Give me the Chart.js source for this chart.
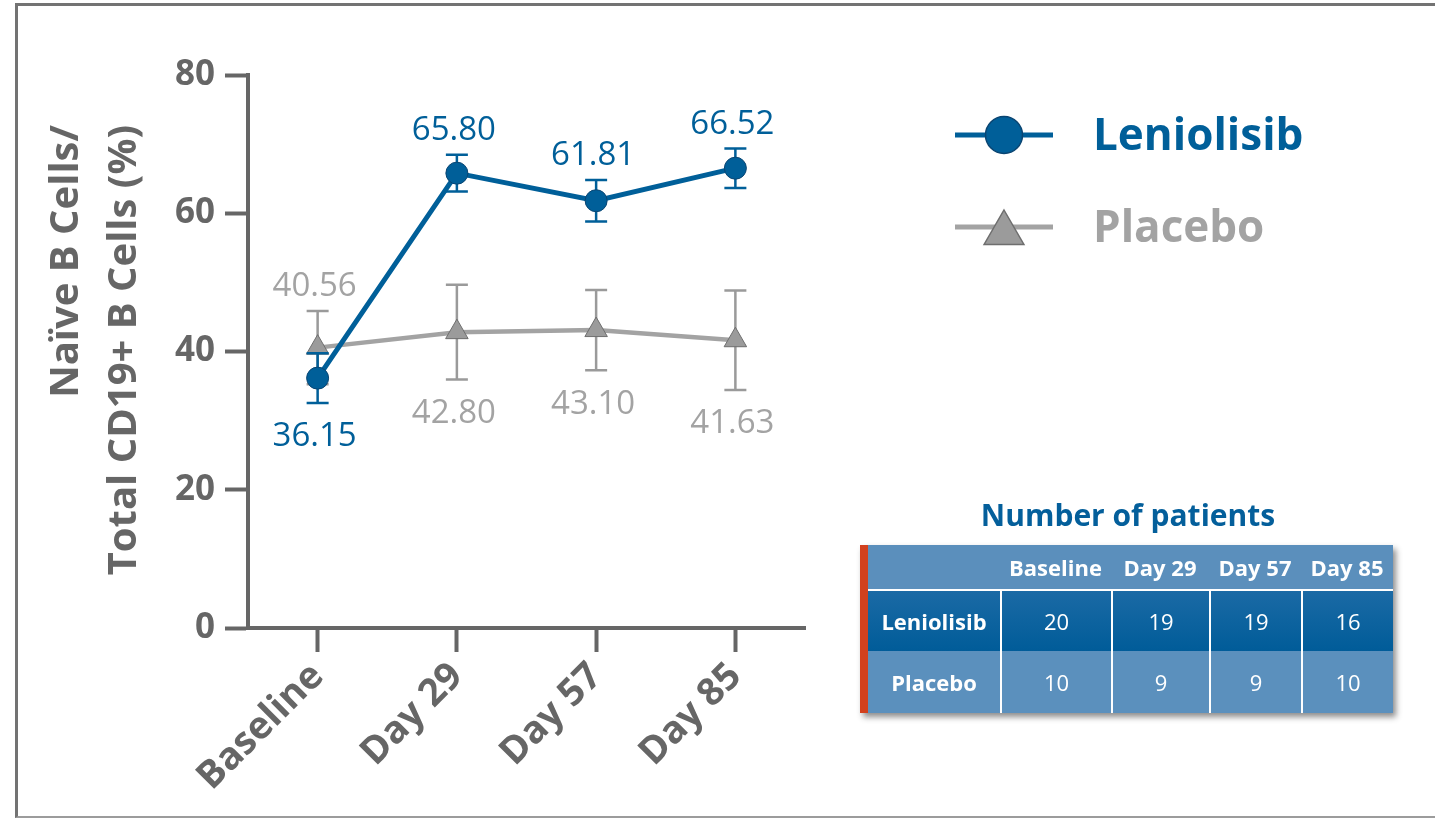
<!DOCTYPE html>
<html>
<head>
<meta charset="utf-8">
<script src="https://cdn.jsdelivr.net/npm/chart.js@4.4.1/dist/chart.umd.min.js"></script>
<style>
  body { margin: 0; background: #fff; font-family: "Open Sans", sans-serif; }
  #wrap { position: relative; width: 1435px; height: 818px; overflow: hidden; }
  #frame { position: absolute; left: 15px; top: 3px; width: 1440px; height: 810px;
           border-left: 3px solid #737373; border-top: 3px solid #737373; border-bottom: 2px solid #9c9c9c; }
  canvas { position: absolute; left: 0; top: 0; }
  #tblTitle { position: absolute; left: 860px; top: 494px; width: 536px; text-align: center;
              font-weight: 700; font-size: 30px; color: #045f9b; }
  #patients { position: absolute; left: 860px; top: 545px; border-collapse: separate; border-spacing: 0;
              table-layout: fixed; width: 533px; border-left: 8px solid #d2411e;
              box-shadow: 3px 4px 6px rgba(0,0,0,0.45); color: #fff; font-size: 22px; }
  #patients th, #patients td { padding: 0; text-align: center; }
  #patients thead th { background: #5b8fbc; height: 44px; font-weight: 700; border-bottom: 2px solid #fff; }
  #patients tbody td { border-left: 2px solid #fff; }
  #patients tbody th { font-weight: 700; }
  #patients tr.len td, #patients tr.len th { background: linear-gradient(#1b6aa5, #005c99); height: 60px; }
  #patients tr.pbo td, #patients tr.pbo th { background: #5b90bd; height: 62px; }
</style>
</head>
<body>
<div id="wrap">
  <div id="frame"></div>
  <canvas id="naiveChart" width="1435" height="818"></canvas>
  <div id="tblTitle">Number of patients</div>
  <table id="patients"></table>
</div>
<script>
  // values
  const categories = ['Baseline', 'Day 29', 'Day 57', 'Day 85'];
  const leniolisibMean = [36.15, 65.80, 61.81, 66.52];
  const leniolisibErr = [3.6, 2.65, 3.0, 2.85];
  const placeboMean = [40.56, 42.80, 43.10, 41.63];
  const placeboErr = [5.3, 6.85, 5.8, 7.2];
  const yTicks = [0, 20, 40, 60, 80];
  const leniolisibN = [20, 19, 19, 16];
  const placeboN = [10, 9, 9, 10];

  const BLUE = '#005f99';
  const GREY = '#a3a3a3';
  const AXIS = '#666666';

  // patients table
  const table = document.getElementById('patients');
  let html = '<colgroup><col style="width:132px"><col style="width:111px"><col style="width:98px">' +
             '<col style="width:92px"><col style="width:92px"></colgroup>';
  html += '<thead><tr><th></th>' + categories.map(c => '<th>' + c + '</th>').join('') + '</tr></thead><tbody>';
  html += '<tr class="len"><th>Leniolisib</th>' + leniolisibN.map(n => '<td>' + n + '</td>').join('') + '</tr>';
  html += '<tr class="pbo"><th>Placebo</th>' + placeboN.map(n => '<td>' + n + '</td>').join('') + '</tr></tbody>';
  table.innerHTML = html;

  function drawMarker(ctx, style, x, y, r) {
    ctx.beginPath();
    if (style === 'triangle') {
      ctx.moveTo(x, y - r);
      ctx.lineTo(x + r * 0.866, y + r * 0.5);
      ctx.lineTo(x - r * 0.866, y + r * 0.5);
      ctx.closePath();
    } else {
      ctx.arc(x, y, r, 0, Math.PI * 2);
    }
    ctx.fill();
    ctx.stroke();
  }

  const extras = {
    id: 'extras',
    // error bars go under each series' line and markers
    beforeDatasetDraw(chart, args) {
      const ds = chart.data.datasets[args.index];
      const y = chart.scales.y;
      const ctx = chart.ctx;
      ctx.save();
      ctx.strokeStyle = ds.errColor;
      ctx.lineWidth = 2.5;
      args.meta.data.forEach((pt, i) => {
        const top = y.getPixelForValue(ds.data[i] + ds.err[i]);
        const bot = y.getPixelForValue(ds.data[i] - ds.err[i]);
        ctx.beginPath();
        ctx.moveTo(pt.x, top); ctx.lineTo(pt.x, bot);
        ctx.moveTo(pt.x - 11, top); ctx.lineTo(pt.x + 11, top);
        ctx.moveTo(pt.x - 11, bot); ctx.lineTo(pt.x + 11, bot);
        ctx.stroke();
      });
      ctx.restore();
    },
    afterDraw(chart) {
      const ctx = chart.ctx;
      const y = chart.scales.y;
      const area = chart.chartArea;
      const sets = chart.data.datasets;
      ctx.save();

      // value labels, placed beyond the error bar on the side away from the other series
      ctx.font = '33px "Open Sans"';
      ctx.textAlign = 'center';
      ctx.textBaseline = 'middle';
      sets.forEach((ds, d) => {
        const other = sets[1 - d];
        const meta = chart.getDatasetMeta(d);
        ctx.fillStyle = ds.labelColor;
        meta.data.forEach((pt, i) => {
          const above = ds.data[i] >= other.data[i];
          const py = above ? y.getPixelForValue(ds.data[i] + ds.err[i]) - 24
                           : y.getPixelForValue(ds.data[i] - ds.err[i]) + 34;
          ctx.fillText(ds.data[i].toFixed(2), pt.x - 3, py);
        });
      });

      // y axis title, two lines aligned at the top
      ctx.fillStyle = AXIS;
      ctx.font = 'bold 40px "Open Sans"';
      ctx.textAlign = 'right';
      const titleLines = ['Naïve B Cells/', 'Total CD19+ B Cells (%)'];
      [area.left - 181, area.left - 123].forEach((tx, k) => {
        ctx.save();
        ctx.translate(tx, area.top + 50);
        ctx.rotate(-Math.PI / 2);
        ctx.fillText(titleLines[k], 0, 0);
        ctx.restore();
      });

      // legend
      const rows = [135, 227];
      sets.forEach((ds, d) => {
        const ly = rows[d];
        ctx.strokeStyle = ds.borderColor;
        ctx.lineWidth = 5;
        ctx.beginPath();
        ctx.moveTo(955, ly); ctx.lineTo(1053, ly);
        ctx.stroke();
        ctx.fillStyle = ds.pointBackgroundColor;
        ctx.strokeStyle = ds.pointBorderColor;
        ctx.lineWidth = 1.5;
        drawMarker(ctx, ds.pointStyle, 1004, ds.pointStyle === 'triangle' ? ly + 6 : ly,
                   ds.pointStyle === 'triangle' ? 23 : 18.5);
        ctx.fillStyle = ds.labelColor;
        ctx.font = 'bold 44px "Open Sans"';
        ctx.textAlign = 'left';
        ctx.fillText(ds.label, 1093, ly + 2);
      });
      ctx.restore();
    }
  };

  new Chart(document.getElementById('naiveChart'), {
    type: 'line',
    data: {
      labels: categories,
      datasets: [
        {
          label: 'Leniolisib',
          data: leniolisibMean,
          err: leniolisibErr,
          errColor: BLUE,
          labelColor: BLUE,
          borderColor: BLUE,
          borderWidth: 5,
          pointStyle: 'circle',
          pointRadius: 11,
          pointBackgroundColor: BLUE,
          pointBorderColor: '#0a4572',
          pointBorderWidth: 1
        },
        {
          label: 'Placebo',
          data: placeboMean,
          err: placeboErr,
          errColor: '#9a9a9a',
          labelColor: GREY,
          borderColor: GREY,
          borderWidth: 4.5,
          pointStyle: 'triangle',
          pointRadius: 13,
          pointBackgroundColor: '#9b9b9b',
          pointBorderColor: '#6e6e6e',
          pointBorderWidth: 1
        }
      ]
    },
    options: {
      responsive: false,
      animation: false,
      layout: { padding: { left: 0, top: 75, right: 630, bottom: 0 } },
      plugins: { legend: { display: false }, tooltip: { enabled: false } },
      scales: {
        x: {
          offset: true,
          afterFit: s => { s.height = 190; },
          border: { color: AXIS, width: 4 },
          grid: { drawOnChartArea: false, tickLength: 24, tickWidth: 4, tickColor: AXIS },
          ticks: {
            color: AXIS,
            font: { family: 'Open Sans', size: 38, weight: 'bold' },
            minRotation: 45,
            maxRotation: 45,
            padding: 2
          }
        },
        y: {
          min: 0,
          max: 80,
          afterFit: s => { s.width = 248; },
          afterBuildTicks: s => { s.ticks = yTicks.map(v => ({ value: v })); },
          border: { color: AXIS, width: 4 },
          grid: { drawOnChartArea: false, tickLength: 23, tickWidth: 4, tickColor: AXIS },
          ticks: {
            color: AXIS,
            font: { family: 'Open Sans', size: 35, weight: 'bold' },
            padding: 10
          }
        }
      }
    },
    plugins: [extras]
  });
</script>
</body>
</html>
